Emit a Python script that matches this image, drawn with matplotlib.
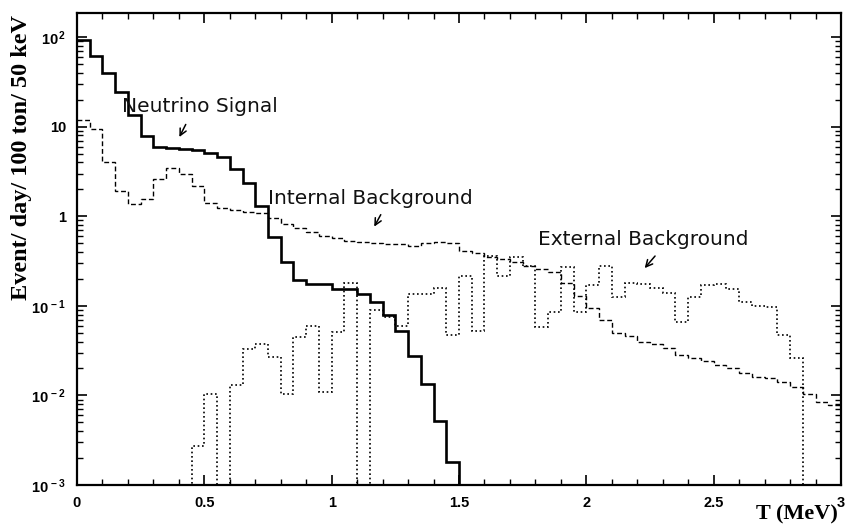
import numpy as np
import matplotlib.pyplot as plt
from matplotlib.ticker import MultipleLocator, FixedLocator, LogLocator, NullFormatter

# bins de 50 keV entre 0 e 3 MeV
edges = np.round(np.arange(0, 3.0001, 0.05), 2)

neutrino = [92, 61, 40, 24.7, 13.6, 7.8, 6.0, 5.8, 5.65, 5.45,
            5.1, 4.6, 3.4, 2.37, 1.3, 0.59, 0.305, 0.196, 0.175, 0.175,
            0.155, 0.155, 0.136, 0.11, 0.08, 0.053, 0.0276, 0.0133, 0.0052, 0.0018,
            0, 0, 0, 0, 0, 0, 0, 0, 0, 0,
            0, 0, 0, 0, 0, 0, 0, 0, 0, 0,
            0, 0, 0, 0, 0, 0, 0, 0, 0, 0]

internal = [12, 9.5, 4.0, 1.9, 1.36, 1.57, 2.58, 3.47, 2.93, 2.17,
            1.42, 1.25, 1.18, 1.12, 1.08, 0.95, 0.82, 0.74, 0.66, 0.6,
            0.57, 0.53, 0.52, 0.5, 0.49, 0.49, 0.47, 0.5, 0.51, 0.5,
            0.41, 0.39, 0.35, 0.33, 0.31, 0.28, 0.26, 0.24, 0.18, 0.13,
            0.094, 0.07, 0.05, 0.046, 0.04, 0.038, 0.034, 0.028, 0.026, 0.024,
            0.022, 0.02, 0.018, 0.016, 0.0155, 0.014, 0.0125, 0.0105, 0.0085, 0.0079]

external = [0, 0, 0, 0, 0, 0, 0, 0, 0, 0.0027,
            0.0105, 0, 0.013, 0.033, 0.038, 0.027, 0.0105, 0.045, 0.059, 0.011,
            0.051, 0.18, 0, 0.091, 0.075, 0.06, 0.135, 0.137, 0.16, 0.047,
            0.217, 0.053, 0.36, 0.217, 0.35, 0.28, 0.058, 0.085, 0.27, 0.085,
            0.17, 0.28, 0.126, 0.18, 0.175, 0.157, 0.14, 0.066, 0.126, 0.17,
            0.175, 0.155, 0.11, 0.1, 0.097, 0.047, 0.026, 0, 0, 0]

xtick_vals = [0, 0.5, 1, 1.5, 2, 2.5, 3]
xtick_labels = ['0', '0.5', '1', '1.5', '2', '2.5', '3']
ytick_vals = [1e-3, 1e-2, 1e-1, 1, 10, 100]
ytick_labels = [r'$\mathrm{10^{\,-3}}$', r'$\mathrm{10^{\,-2}}$', r'$\mathrm{10^{\,-1}}$',
                '1', '10', r'$\mathrm{10^{\,2}}$']

plt.rcParams['mathtext.fontset'] = 'custom'
plt.rcParams['mathtext.rm'] = 'Liberation Sans:bold'
plt.rcParams['mathtext.it'] = 'Liberation Sans:bold'
plt.rcParams['mathtext.bf'] = 'Liberation Sans:bold'


def piso(v):
    # zeros nao existem em escala log -> joga para fora do eixo
    v = np.array(v, dtype=float)
    return np.where(v > 0, v, 1e-6)


fig = plt.figure(figsize=(8.47, 5.26), dpi=100)
ax = fig.add_axes([0.0909, 0.0779, 0.902, 0.897])

ax.stairs(piso(neutrino), edges, baseline=None, color='black', lw=1.9)
ax.stairs(piso(internal), edges, baseline=None, color='black', lw=1.0,
          linestyle=(0, (3.5, 2)))
ax.stairs(piso(external), edges, baseline=None, color='black', lw=1.2,
          linestyle=(0, (1, 1.6)))

ax.set_yscale('log')
ax.set_xlim(0, 3)
ax.set_ylim(1e-3, 185)

ax.xaxis.set_major_locator(FixedLocator(xtick_vals))
ax.set_xticklabels(xtick_labels)
ax.xaxis.set_minor_locator(MultipleLocator(0.1))
ax.yaxis.set_major_locator(FixedLocator(ytick_vals))
ax.set_yticklabels(ytick_labels)
ax.yaxis.set_minor_locator(LogLocator(base=10, subs=np.arange(2, 10)))
ax.yaxis.set_minor_formatter(NullFormatter())

ax.tick_params(which='both', direction='in', top=True, right=True, color='black')
ax.tick_params(which='major', length=7, width=1.2, pad=8)
ax.tick_params(which='minor', length=4, width=1.0)
for lab in ax.get_xticklabels() + ax.get_yticklabels():
    lab.set_fontfamily('Liberation Sans')
    lab.set_fontweight('bold')
    lab.set_fontsize(10.5)
for sp in ax.spines.values():
    sp.set_linewidth(1.6)

fig.text(0.025, 0.70, 'Event/ day/ 100 ton/ 50 keV', rotation=90, ha='center', va='center',
         fontfamily='Liberation Serif', fontweight='bold', fontsize=17.5)
fig.text(0.989, 0.003, 'T (MeV)', ha='right', va='bottom',
         fontfamily='Liberation Serif', fontweight='bold', fontsize=16)

# rotulos "escritos a mao"
txt = dict(fontfamily='DejaVu Sans', fontsize=14.5, va='center', color='#111111')
seta = dict(arrowstyle='->', lw=1.1, color='black', mutation_scale=12)
ax.text(0.177, 16.7, 'Neutrino Signal', **txt)
ax.annotate('', xy=(0.397, 7.2), xytext=(0.432, 11.3), arrowprops=seta)
ax.text(0.75, 1.58, 'Internal Background', **txt)
ax.annotate('', xy=(1.162, 0.72), xytext=(1.198, 1.11), arrowprops=seta)
ax.text(1.81, 0.555, 'External Background', **txt)
ax.annotate('', xy=(2.222, 0.25), xytext=(2.277, 0.38), arrowprops=seta)

plt.savefig('out.png', dpi=100)
